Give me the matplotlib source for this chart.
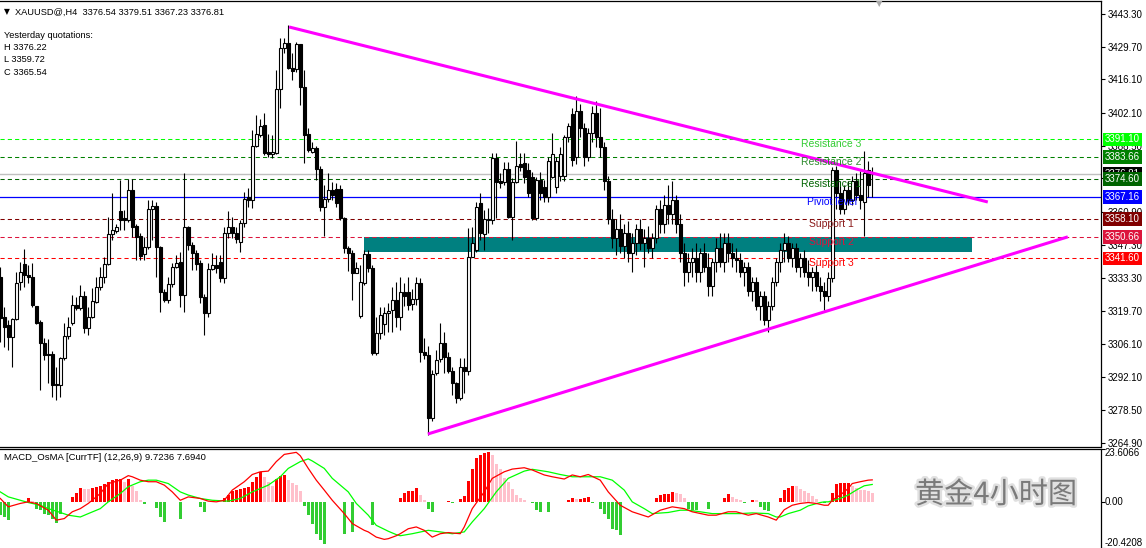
import matplotlib
matplotlib.use('Agg')
import matplotlib.pyplot as plt
import matplotlib.patheffects as pe
import matplotlib.transforms as mtransforms
from matplotlib.patches import Rectangle
import numpy as np

# ---------------- data ----------------
opens = [
 3334.0, 3317.4, 3313.9, 3308.8, 3316.3, 3332.0, 3339.3, 3334.7, 3333.8, 3321.8,
 3315.3, 3306.6, 3302.0, 3301.9, 3289.3, 3289.0, 3300.1, 3309.4, 3314.6, 3322.2,
 3320.9, 3326.1, 3312.5, 3317.4, 3323.6, 3329.6, 3334.0, 3339.2, 3351.6, 3353.2,
 3361.3, 3358.6, 3357.6, 3370.1, 3355.1, 3350.9, 3343.5, 3346.2, 3362.0, 3363.4,
 3346.2, 3327.8, 3324.3, 3330.8, 3337.9, 3340.1, 3326.4, 3354.5, 3347.2, 3343.7,
 3339.6, 3325.4, 3318.8, 3337.1, 3338.9, 3340.0, 3333.4, 3352.1, 3354.9, 3352.1,
 3348.6, 3356.3, 3367.1, 3366.0, 3388.4, 3393.0, 3397.1, 3385.9, 3385.1, 3385.6,
 3412.0, 3429.0, 3431.4, 3420.7, 3420.3, 3430.8, 3412.8, 3393.4, 3386.0, 3387.4,
 3378.7, 3363.2, 3366.2, 3370.1, 3370.5, 3370.4, 3358.3, 3345.9, 3343.8, 3335.7,
 3317.7, 3331.3, 3343.4, 3337.5, 3302.2, 3310.5, 3314.4, 3318.8, 3320.0, 3324.4,
 3317.2, 3327.8, 3327.8, 3322.7, 3324.9, 3331.3, 3302.9, 3301.5, 3275.2, 3293.9,
 3299.7, 3306.3, 3300.8, 3295.0, 3289.7, 3283.5, 3296.6, 3294.6, 3342.4, 3345.2,
 3364.8, 3351.8, 3357.6, 3357.6, 3383.3, 3373.9, 3373.6, 3378.7, 3359.0, 3373.6,
 3380.9, 3381.2, 3378.2, 3375.7, 3358.3, 3374.3, 3371.5, 3367.3, 3375.7,
 3371.5, 3376, 3376, 3392, 3401.5, 3384, 3403, 3396, 3384, 3394,
 3402, 3392, 3388, 3374, 3358, 3350, 3354, 3347, 3352, 3344,
 3348, 3354, 3348, 3350, 3346, 3350, 3362, 3356, 3364, 3360,
 3366, 3356, 3344, 3336, 3340, 3342, 3336, 3344, 3338, 3330,
 3340, 3346, 3340, 3348, 3344, 3342, 3341, 3336, 3338, 3328,
 3332, 3322, 3326, 3316, 3322, 3332, 3340, 3345, 3348, 3342,
 3346, 3338, 3342, 3336, 3334, 3336, 3330, 3328, 3326, 3333.5,
 3378.4, 3369, 3362, 3370, 3366, 3374, 3368, 3365, 3378.4, 3376.54]
highs = [
 3338.0, 3321.6, 3316.0, 3316.7, 3336.1, 3340.3, 3345.5, 3338.9, 3339.6, 3322.0,
 3316.0, 3308.4, 3308.0, 3303.0, 3296.6, 3300.8, 3314.6, 3317.4, 3326.4, 3325.7,
 3330.6, 3328.0, 3321.6, 3329.2, 3334.0, 3338.2, 3342.3, 3359.0, 3368.7, 3356.0,
 3374.2, 3361.7, 3374.5, 3374.5, 3356.0, 3352.0, 3350.4, 3365.9, 3365.9, 3365.0,
 3347.0, 3329.0, 3334.0, 3339.6, 3343.0, 3344.4, 3377.3, 3355.1, 3348.6, 3345.1,
 3341.0, 3327.0, 3339.6, 3343.7, 3343.0, 3343.0, 3354.9, 3361.5, 3358.7, 3354.9,
 3357.6, 3369.4, 3370.8, 3395.1, 3401.3, 3399.5, 3402.3, 3393.4, 3393.0, 3420.0,
 3433.2, 3433.2, 3438.7, 3427.0, 3431.8, 3431.0, 3420.0, 3395.8, 3390.2, 3388.4,
 3380.0, 3372.2, 3377.0, 3373.3, 3372.9, 3372.0, 3359.0, 3347.0, 3345.0, 3340.3,
 3339.0, 3345.2, 3345.2, 3338.9, 3317.4, 3321.6, 3321.3, 3323.0, 3329.9, 3332.0,
 3334.1, 3331.3, 3333.8, 3328.8, 3333.8, 3333.4, 3308.4, 3305.0, 3295.3, 3303.6,
 3314.7, 3311.2, 3302.9, 3296.6, 3290.4, 3300.1, 3300.1, 3354.2, 3354.9, 3365.3,
 3368.7, 3361.8, 3362.5, 3385.4, 3385.4, 3377.0, 3381.9, 3381.9, 3375.0, 3390.6,
 3385.4, 3385.4, 3381.2, 3377.7, 3375.7, 3377.7, 3374.3, 3384.0, 3393.7,
 3384, 3388, 3393, 3398, 3404, 3409, 3406, 3398, 3396, 3405,
 3407, 3404, 3390, 3376, 3362, 3358, 3360, 3356, 3357, 3352,
 3356, 3358, 3354, 3355, 3352, 3364, 3366, 3368, 3372, 3374,
 3368, 3360, 3348, 3344, 3346, 3348, 3346, 3348, 3344, 3342,
 3350, 3352, 3352, 3352, 3348, 3346, 3344, 3340, 3340, 3334,
 3334, 3328, 3328, 3324, 3334, 3342, 3348, 3352, 3351, 3348,
 3348, 3344, 3345, 3341, 3338, 3339, 3334, 3332, 3336, 3379.5,
 3380, 3374, 3372, 3374, 3376, 3377, 3378, 3386.4, 3382, 3379.51]
lows = [
 3307.0, 3304.9, 3303.5, 3296.6, 3316.0, 3328.5, 3329.9, 3331.3, 3321.6, 3314.5,
 3286.9, 3299.4, 3289.7, 3284.1, 3282.7, 3284.1, 3299.4, 3308.0, 3313.9, 3320.2,
 3320.2, 3310.5, 3309.8, 3316.7, 3322.9, 3328.5, 3331.3, 3338.9, 3349.3, 3352.0,
 3353.4, 3353.4, 3356.9, 3350.7, 3341.0, 3341.0, 3341.0, 3345.4, 3349.3, 3334.0,
 3319.5, 3323.6, 3323.2, 3329.9, 3337.5, 3321.6, 3319.5, 3345.0, 3336.8, 3336.8,
 3322.9, 3309.8, 3317.4, 3336.8, 3335.4, 3332.0, 3331.3, 3350.0, 3350.0, 3347.9,
 3344.5, 3354.9, 3363.2, 3362.5, 3388.1, 3392.3, 3384.7, 3384.0, 3383.3, 3385.0,
 3404.1, 3427.0, 3420.3, 3415.9, 3419.3, 3405.5, 3381.2, 3386.0, 3385.4, 3374.3,
 3361.5, 3351.0, 3365.3, 3366.0, 3363.0, 3357.5, 3343.8, 3336.2, 3324.4, 3335.5,
 3317.0, 3330.6, 3336.0, 3301.5, 3301.5, 3308.0, 3309.8, 3311.0, 3311.2, 3313.3,
 3311.9, 3322.0, 3320.2, 3320.0, 3322.3, 3298.7, 3300.0, 3268.2, 3273.8, 3293.0,
 3298.7, 3293.9, 3293.9, 3284.9, 3281.4, 3282.8, 3285.6, 3293.2, 3342.1, 3344.5,
 3349.3, 3345.2, 3352.1, 3356.0, 3358.3, 3371.0, 3372.0, 3358.3, 3349.3, 3373.2,
 3378.0, 3372.9, 3367.0, 3357.6, 3357.6, 3366.0, 3365.3, 3365.3, 3375.0,
 3369, 3374, 3374, 3390, 3380, 3381, 3392, 3380, 3382, 3390,
 3388, 3384, 3370, 3356, 3346, 3343, 3344, 3342, 3340, 3336,
 3343, 3345, 3338, 3344, 3342, 3348, 3352, 3352, 3356, 3356,
 3352, 3340, 3330, 3332, 3334, 3332, 3332, 3336, 3326, 3326,
 3336, 3338, 3336, 3340, 3338, 3336, 3334, 3330, 3326, 3324,
 3320, 3316, 3314, 3311, 3320, 3330, 3336, 3340, 3340, 3338,
 3336, 3334, 3334, 3330, 3328, 3328, 3324, 3320, 3324, 3332,
 3362, 3360, 3360, 3364, 3364, 3366, 3362, 3350.9, 3367, 3367.23]
closes = [
 3317.0, 3313.2, 3309.1, 3316.3, 3331.5, 3336.1, 3334.7, 3333.8, 3322.2, 3314.9,
 3306.3, 3301.5, 3301.6, 3289.0, 3289.0, 3300.1, 3309.4, 3313.2, 3322.2, 3320.9,
 3326.1, 3312.5, 3317.4, 3323.9, 3329.7, 3334.0, 3339.2, 3351.6, 3353.4, 3354.5,
 3357.6, 3357.6, 3370.1, 3354.8, 3350.7, 3342.6, 3346.2, 3362.0, 3363.4, 3346.2,
 3327.8, 3324.3, 3330.8, 3337.9, 3339.9, 3326.4, 3354.5, 3347.2, 3343.7, 3339.3,
 3325.4, 3318.8, 3337.1, 3338.9, 3337.5, 3333.4, 3352.1, 3354.9, 3352.1, 3349.6,
 3356.3, 3366.2, 3366.0, 3388.4, 3393.4, 3396.7, 3385.6, 3385.1, 3385.9, 3412.0,
 3429.0, 3431.1, 3420.7, 3419.7, 3430.8, 3412.8, 3393.0, 3386.7, 3387.4, 3378.7,
 3363.2, 3366.2, 3370.1, 3368.0, 3364.8, 3358.3, 3345.9, 3343.8, 3335.7, 3337.5,
 3331.7, 3343.4, 3337.5, 3302.2, 3310.5, 3318.1, 3319.1, 3319.9, 3324.4, 3317.2,
 3327.8, 3326.0, 3322.3, 3324.6, 3331.3, 3302.9, 3301.5, 3275.2, 3293.6, 3299.4,
 3306.3, 3300.8, 3294.6, 3289.7, 3283.5, 3296.6, 3294.6, 3342.4, 3347.9, 3363.2,
 3352.1, 3357.9, 3358.0, 3383.3, 3373.6, 3372.9, 3378.7, 3359.0, 3373.6, 3380.1,
 3379.8, 3375.7, 3369.0, 3358.3, 3374.3, 3368.7, 3367.3, 3382.3, 3385.1,
 3382.3, 3385, 3392, 3396.5, 3382.5, 3403, 3396, 3384, 3394, 3402,
 3392, 3388, 3374, 3358, 3350, 3354, 3347, 3352, 3344, 3348,
 3354, 3348, 3350, 3346, 3350, 3362, 3356, 3364, 3360, 3366,
 3356, 3344, 3336, 3340, 3342, 3336, 3344, 3338, 3330, 3340,
 3346, 3340, 3348, 3344, 3342, 3341, 3336, 3338, 3328, 3332,
 3322, 3326, 3316, 3322, 3332, 3340, 3345, 3348, 3342, 3346,
 3338, 3342, 3336, 3334, 3336, 3330, 3328, 3326, 3333.5, 3378.4,
 3369, 3362, 3370, 3366, 3374, 3368, 3366, 3377, 3372.2, 3376.81]

# pivot levels
level_prices = [3391.10, 3383.66, 3374.60, 3367.16, 3358.10, 3350.66, 3341.60]
level_names = ["Resistance 3", "Resistance 2", "Resistance 1", "Piviot level",
               "Support 1", "Support 2", "Support 3"]
level_label_bar = [200.2, 200.2, 200.2, 201.7, 202.2, 202.2, 202.2]
current_price = 3376.81

# trend lines (bar index, price)
upper_trend = [(72.2, 3437.9), (246.9, 3365.1)]
lower_trend = [(106.9, 3268.6), (266.9, 3350.6)]
# zone rectangle (bar start, bar end, price low, price high)
zone = (90.9, 242.9, 3344.4, 3350.7)

price_ticks = [3443.30, 3429.70, 3416.10, 3402.10, 3388.50, 3374.90, 3360.90,
               3347.30, 3333.30, 3319.70, 3306.10, 3292.10, 3278.50, 3264.90]

# OsMA histogram, one value per bar
osma = [
 -5.9, -6.7, -8.1, 0, 0, 0, 0, 1.5, 0.5, -3.0,
 -3.7, -5.2, -5.9, -7.4, -9.2, -5.2, 0, 0, 2.2, 3.9,
 6.1, 5.6, 5.6, 6.1, 6.4, 7.1, 7.9, 8.7, 9.5, 10.1,
 10.2, 9.0, 10.1, 7.1, 5.0, 0.9, -1.0, 0, 0, -2.7,
 -6.7, -8.9, 0, 0, 0, -7.7, 0, 0, 0, 0,
 -2.2, -4.4, 0, 0, 0, 0, 1.5, 3.0, 4.7, 5.2,
 5.6, 6.1, 6.7, 8.7, 11.1, 13.0, 10.8, 8.7, 7.1, 10.1,
 11.3, 11.9, 9.8, 8.4, 7.4, 4.6, -1.8, -5.9, -9.6, -14.1,
 -17.0, -18.5, 0, 0, 0, 0, -14.1, 0, -13.3, 0,
 0, 0, 0, -10.4, 0, 0, 0, 0, 0, 0,
 1.8, 3.9, 4.6, 5.0, 6.1, 3.1, 0.9, -3.0, -4.7, 0,
 0, 0, 0.4, -0.3, 0, 1.2, 2.4, 9.2, 14.5, 19.3,
 20.7, 21.6, 22.0, 20.7, 16.9, 14.5, 10.7, 8.6, 5.6, 3.0,
 1.8, 0.7, 0, -0.7, -3.7, -4.4, 0, -4.7, 0, 0,
 0, 0, 0.7, 1.8, 1.2, 1.4, 1.8, 2.2, -0.7, 0,
 -3.3, -5.2, -7.7, -11.9, -12.6, -14.5, 0, 0, 0, 0,
 0, 0, 0, 0, 1.5, 3.0, 3.3, 3.4, 4.4, 4.0,
 3.3, 1.5, -3.0, -3.7, -3.7, 0, 0, -3.3, 0, 0,
 0, 1.8, 3.3, 2.2, 1.2, 0.7, -0.3, 0, 0.7, 0.7,
 -2.2, -3.7, -4.2, 0, 0, 1.8, 5.2, 6.3, 7.1, 6.8,
 5.6, 5.0, 3.9, 2.4, 1.2, 0, -0.4, 0, 3.9, 8.0,
 8.2, 8.3, 8.4, 7.1, 6.1, 5.3, 5.3, 4.6, 3.9]

macd_bars = [0, 2, 5, 7, 9, 12, 14, 16, 18, 20, 22, 25, 27, 30, 32, 33, 35, 37, 39, 41,
             43, 45, 47, 50, 52, 54, 56, 58, 61, 63, 65, 67, 69, 71, 74, 75, 77, 79, 81, 83,
             86, 88, 91, 92, 94, 96, 97, 99, 100, 102, 104, 106, 108, 110, 112, 115, 116, 118,
             121, 123, 126, 128, 131, 133, 136, 138, 141, 143, 145, 147, 150, 152, 155, 158,
             162, 165, 168, 171, 173, 177, 179, 182, 184, 187, 189, 192, 194, 196, 198, 200,
             202, 204, 206, 207, 208, 210, 212, 213, 215, 217, 218]
macd_vals = [1.5, -2.2, -0.7, 0.0, -0.7, -3.7, -8.1, -7.4, -4.4, -3.0, -0.7, 3.7, 8.1, 9.6,
             11.6, 11.1, 9.6, 8.9, 8.9, 7.4, 4.4, 0.7, 2.2, 1.5, 0.3, 0.0, 0.7, 5.2, 8.9, 12.1,
             13.3, 13.6, 17.8, 21.0, 21.9, 20.4, 14.8, 9.6, 5.2, 0.7, -5.2, -9.6, -12.6, -13.3,
             -15.6, -16.6, -16.3, -15.0, -14.1, -11.9, -11.1, -12.6, -15.6, -14.1, -13.6, -14.1,
             -11.1, -3.0, 4.4, 10.4, 13.3, 14.5, 15.1, 14.1, 11.9, 11.1, 10.1, 11.9, 11.1, 12.1,
             9.6, 4.4, -1.5, -4.4, -6.7, -3.7, -2.2, -3.0, -4.4, -5.9, -5.9, -4.4, -4.4, -5.9,
             -5.2, -6.7, -8.1, -3.5, -1.5, -0.7, -0.3, -0.7, -1.5, -1.5, 0.7, 3.0, 5.9, 8.1,
             8.9, 9.6, 9.7236]
signal_bars = [0, 2, 5, 7, 10, 12, 15, 17, 20, 22, 25, 27, 30, 32, 35, 37, 39, 42, 45, 47,
               50, 53, 57, 60, 63, 67, 70, 72, 75, 77, 78, 81, 83, 87, 89, 92, 94, 97, 99, 100,
               103, 107, 110, 113, 116, 118, 121, 124, 127, 131, 133, 137, 140, 143, 147, 150,
               153, 156, 158, 161, 163, 167, 170, 172, 175, 178, 182, 185, 188, 192, 194, 195,
               197, 200, 202, 205, 206, 207, 210, 212, 214, 216, 218]
signal_vals = [4.4, 2.2, 0.7, -0.3, -1.5, -3.0, -4.7, -5.9, -6.7, -5.2, -3.0, 0.0, 3.7, 6.7,
               8.9, 9.6, 9.6, 8.1, 4.4, 3.0, 1.5, 0.7, 0.3, 1.5, 4.4, 7.4, 11.1, 14.8, 17.8,
               19.0, 18.1, 14.8, 10.4, 4.4, -0.7, -5.9, -10.4, -13.0, -14.5, -15.0, -14.1,
               -12.6, -13.3, -14.1, -13.3, -8.9, -3.0, 4.4, 10.4, 13.6, 14.4, 13.3, 12.1, 11.1,
               11.1, 11.1, 9.6, 5.2, 0.0, -3.0, -5.2, -4.7, -3.7, -3.7, -4.4, -5.2, -5.2, -5.2,
               -4.9, -5.2, -6.7, -6.7, -5.2, -3.7, -1.8, -0.3, 0.0, 0.0, 1.5, 3.0, 5.2, 7.1,
               7.694]
macd_range = (-20.4208, 23.6066)

header = "XAUUSD@,H4  3376.54 3379.51 3367.23 3376.81"
yesterday = ["Yesterday quotations:", "H 3376.22", "L 3359.72", "C 3365.54"]
macd_title = "MACD_OsMA [CurrTF] (12,26,9) 9.7236 7.6940"
watermark = "黄金4小时图"

# ---------------- figure ----------------
W, H, DPI = 1146, 548, 100
plt.rcParams['font.family'] = ['Liberation Sans', 'DejaVu Sans']
fig = plt.figure(figsize=(W / DPI, H / DPI), dpi=DPI)
fig.patch.set_facecolor('white')


def fx(px):
    return px / W


def fy(py):
    return 1 - py / H


PX_RIGHT = 1101
ax = fig.add_axes([0, fy(446.5), fx(PX_RIGHT), (446.5 - 1) / H])
ax2 = fig.add_axes([0, 0, fx(PX_RIGHT), (548 - 448.5) / H])

XMIN, XMAX = -0.075, 275.2
ax.set_xlim(XMIN, XMAX)
ax.set_ylim(3263.4, 3448.7)
ax2.set_xlim(XMIN, XMAX)
ax2.set_ylim(*macd_range)

for a in (ax, ax2):
    a.set_facecolor('white')
    a.spines['left'].set_visible(False)
    a.spines['bottom'].set_visible(a is ax)
    for s in a.spines.values():
        s.set_linewidth(0.9)
        s.set_color('black')
    a.set_xticks([])
    a.yaxis.tick_right()
    a.tick_params(axis='y', length=3, width=0.8, pad=2, labelsize=7, colors='black')

# zone rectangle (background)
ax.add_patch(Rectangle((zone[0], zone[2]), zone[1] - zone[0], zone[3] - zone[2],
                       facecolor='#008080', edgecolor='none', zorder=1))

# levels
level_colors = ['#00FF00', '#008000', '#006400', '#0000FF', '#800000', '#DC143C', '#FF0000']
text_colors = ['#33CC33', '#2E8B2E', '#006400', '#0000FF', '#8B1A1A', '#DC143C', '#FF0000']
ax.axhline(current_price, color='#C0C0C0', lw=1.0, zorder=2)
for p, col in zip(level_prices, level_colors):
    if col == '#0000FF':
        ax.axhline(p, color=col, lw=0.9, zorder=2)
    else:
        ax.axhline(p, color=col, lw=0.75, ls=(0, (4, 3)), zorder=2)
for p, name, xb, col in zip(level_prices, level_names, level_label_bar, text_colors):
    ax.text(xb, p, name, color=col, fontsize=7.5, ha='left', va='top', zorder=6)

# candles
idx = np.arange(len(opens))
o = np.array(opens); h = np.array(highs); l = np.array(lows); c = np.array(closes)
ax.vlines(idx, l, h, color='black', lw=0.8, zorder=3)
bull = c >= o
bot = np.minimum(o, c)
hgt = np.maximum(np.abs(c - o), 0.35)
ax.bar(idx[bull], hgt[bull], bottom=bot[bull], width=0.72, color='white',
       edgecolor='black', linewidth=0.8, zorder=4)
ax.bar(idx[~bull], hgt[~bull], bottom=bot[~bull], width=0.72, color='black',
       edgecolor='black', linewidth=0.8, zorder=4)

# trend lines
for tl in (upper_trend, lower_trend):
    ax.plot([tl[0][0], tl[1][0]], [tl[0][1], tl[1][1]], color='#FF00FF', lw=2.2,
            solid_capstyle='butt', zorder=5)

# price axis
ax.set_yticks(price_ticks)
ax.set_yticklabels([f"{t:.2f}" for t in price_ticks])

blend = mtransforms.blended_transform_factory(ax.transAxes, ax.transData)
off = mtransforms.ScaledTranslation(4 / DPI, 0, fig.dpi_scale_trans)
box_prices = [current_price] + level_prices
box_colors = ['#000000'] + level_colors
for p, col in zip(box_prices, box_colors):
    ax.text(1.0, p, f"{p:.2f}", transform=blend + off, ha='left', va='center',
            fontsize=7, color='white', clip_on=False, zorder=10,
            bbox=dict(boxstyle='square,pad=0.2', fc=col, ec='none'))

# ---------------- MACD panel ----------------
osma_a = np.array(osma)
colors = []
for i, v in enumerate(osma_a):
    prev = osma_a[i - 1] if i > 0 else 0.0
    if v < 0:
        colors.append('#32CD32')
    elif v > prev:
        colors.append('#FF0000')
    else:
        colors.append('#FFC0CB')
ax2.bar(np.arange(len(osma_a)), osma_a, width=0.72, color=colors, linewidth=0, zorder=2)
ax2.plot(signal_bars, signal_vals, color='#00FF00', lw=0.9, zorder=3)
ax2.plot(macd_bars, macd_vals, color='#FF0000', lw=0.9, zorder=4)

ax2.set_yticks([macd_range[1], 0.0, macd_range[0]])
ax2.set_yticklabels([])
blend2 = mtransforms.blended_transform_factory(ax2.transAxes, ax2.transData)
ax2.text(1.0, macd_range[1], f"{macd_range[1]:.4f}", transform=blend2 + off, ha='left',
         va='top', fontsize=7, clip_on=False)
ax2.text(1.0, 0.0, "0.00", transform=blend2 + off, ha='left', va='center', fontsize=7,
         clip_on=False)
ax2.text(1.0, macd_range[0], f"{macd_range[0]:.4f}", transform=blend2 + off, ha='left',
         va='bottom', fontsize=7, clip_on=False)

# ---------------- texts ----------------
fig.text(fx(4), fy(12), "▼", fontsize=5.5, family='DejaVu Sans', va='center', ha='left')
fig.text(fx(15), fy(12), header, fontsize=6.7, va='center', ha='left')
for k, s in enumerate(yesterday):
    fig.text(fx(4), fy(36 + 12 * k), s, fontsize=6.7, va='center', ha='left')
fig.text(fx(4), fy(457), macd_title, fontsize=6.8, va='center', ha='left')
fig.text(fx(879), fy(4), "▼", fontsize=6, family='DejaVu Sans', color='#A8A8A8',
         va='center', ha='center')

fig.text(fx(996), fy(495), watermark, fontsize=21, family=['Noto Sans CJK SC', 'DejaVu Sans'],
         color='#7A7A7A', ha='center', va='center',
         path_effects=[pe.withStroke(linewidth=3.5, foreground='#E0E0E0')])

fig.savefig('out.png', dpi=DPI, facecolor='white')
